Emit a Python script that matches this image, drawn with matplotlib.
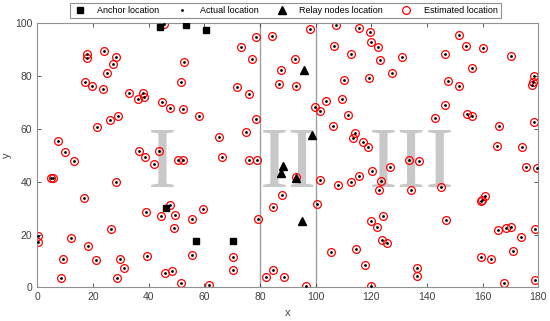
import matplotlib
matplotlib.use("Agg")
import matplotlib.pyplot as plt

plt.rcParams['font.family'] = ['Liberation Sans', 'DejaVu Sans']

# node positions (actual and estimated practically coincide)
node_x = [45.6, 17.7, 18.0, 24.0, 28.3, 27.1, 25.0, 17.2, 19.5, 23.5, 33.0, 36.1, 37.9, 38.4, 44.8,
          29.0, 26.1, 21.3, 7.4, 10.1, 36.6, 43.7, 78.7, 73.2, 77.2, 52.6, 51.5, 71.6, 75.9, 47.6,
          52.2, 58.1, 78.7, 75.0, 65.4, 13.2, 38.7, 42.0, 4.8, 5.5, 28.3, 16.7, 39.0, 44.3, 26.6,
          0.4, 0.1, 12.0, 18.3, 9.3, 21.1, 29.7, 39.4, 31.0, 8.6, 28.5, 45.9, 50.6, 52.3, 66.4,
          76.2, 78.9, 47.6, 49.6, 59.4, 55.6, 49.2, 79.2, 55.7, 70.4, 70.4, 48.5, 51.7, 61.6,
          84.2, 87.6, 86.8, 92.5, 93.0, 98.0, 99.6, 92.9, 88.0, 84.8, 82.1, 84.7, 88.7, 96.4,
          107.3, 115.7, 119.6, 106.7, 119.8, 122.4, 112.8, 123.2, 130.9, 127.3, 110.1, 119.3, 103.7,
          109.4, 101.5, 111.6, 106.3, 114.0, 113.5, 117.0, 118.9, 151.6, 154.0, 160.2, 146.4, 170.0,
          156.1, 178.4, 178.2, 177.8, 147.4, 151.6, 146.4, 142.7, 154.2, 156.2, 165.9, 178.5, 165.0,
          174.1, 101.5, 108.0, 112.8, 115.6, 120.2, 126.8, 123.6, 122.8, 133.5, 137.1, 134.1, 100.6,
          119.9, 124.1, 122.0, 123.7, 125.5, 105.6, 114.4, 117.8, 120.0, 144.9, 175.4, 179.4, 160.9,
          159.7, 159.4, 146.7, 165.5, 168.4, 170.0, 178.7, 173.6, 171.0, 159.3, 163.1, 136.5, 136.5,
          167.5, 178.7]
node_y = [99.8, 88.5, 87.0, 89.4, 87.1, 84.5, 81.1, 77.8, 76.3, 75.1, 73.6, 71.3, 73.6, 72.0, 70.3,
          64.9, 63.4, 60.7, 55.4, 51.1, 51.6, 51.7, 94.7, 91.1, 86.6, 85.3, 77.7, 75.8, 73.1, 68.0,
          67.5, 65.0, 63.6, 58.8, 56.9, 48.0, 49.3, 46.6, 41.3, 41.3, 39.8, 33.7, 28.4, 27.1, 22.1,
          19.4, 17.1, 18.7, 15.5, 10.6, 10.3, 10.8, 11.7, 7.2, 3.6, 3.6, 5.6, 48.2, 48.2, 49.5,
          48.2, 48.1, 31.1, 27.5, 29.8, 25.8, 22.5, 25.8, 12.1, 11.5, 6.6, 6.3, 1.5, 0.9,
          95.2, 82.2, 76.9, 86.5, 76.1, 98.0, 68.2, 41.9, 35.0, 30.3, 3.9, 6.6, 3.8, 0.6,
          99.4, 98.2, 96.8, 91.5, 93.0, 90.9, 88.3, 86.0, 87.2, 81.1, 78.4, 79.5, 70.7,
          71.3, 66.9, 65.2, 61.1, 58.6, 56.6, 55.2, 53.1, 95.6, 91.3, 90.5, 88.3, 87.5,
          83.1, 80.2, 77.8, 76.5, 78.0, 76.3, 69.1, 64.0, 65.8, 64.9, 61.1, 62.6, 53.5,
          53.0, 40.8, 38.8, 39.9, 42.3, 44.2, 45.5, 40.3, 36.9, 48.2, 47.8, 36.7, 31.4,
          25.2, 27.0, 23.0, 18.0, 16.8, 13.4, 14.4, 8.3, 0.6, 37.9, 45.7, 45.1, 34.7,
          33.0, 32.6, 25.6, 21.6, 22.3, 23.0, 22.0, 19.1, 13.6, 11.4, 10.7, 7.4, 4.4,
          1.7, 2.8]

anchor_x = [44.0, 53.3, 60.6, 46.1, 56.9, 70.4]
anchor_y = [98.5, 99.3, 97.5, 29.9, 17.5, 17.5]

relay_x = [95.9, 98.6, 88.3, 87.5, 92.8, 95.2]
relay_y = [82.3, 57.9, 46.0, 43.5, 41.5, 25.2]

region_labels = ["I", "II", "III"]
region_label_x = [45.0, 90.4, 134.4]
region_label_y = [45.9, 45.9, 45.9]
region_bounds = [80, 100]

fig = plt.figure(figsize=(5.5, 3.21), dpi=100)
ax = fig.add_axes([0.0678, 0.105, 0.911, 0.822])

for lab, lx, ly in zip(region_labels, region_label_x, region_label_y):
    ax.text(lx, ly, lab, family='Liberation Serif', fontsize=62, color='#c8c8c8',
            ha='center', va='center', zorder=0)
for b in region_bounds:
    ax.plot([b, b], [0, 100], color='#a0a0a0', lw=1.0, zorder=1)

ax.plot(anchor_x, anchor_y, 's', color='black', ms=4.5, label='Anchor location', zorder=4)
ax.plot(node_x, node_y, '.', color='black', ms=2.0, label='Actual location', zorder=3)
ax.plot(relay_x, relay_y, '^', color='black', ms=5.5, label='Relay nodes location', zorder=4)
ax.plot(node_x, node_y, 'o', mfc='none', mec='red', mew=0.9, ms=5.6,
        label='Estimated location', zorder=2)

ax.set_xlim(0, 180)
ax.set_ylim(0, 100)
ax.set_xticks(range(0, 181, 20))
ax.set_yticks(range(0, 101, 20))
ax.tick_params(direction='in', top=True, right=True, labelsize=7.5, colors='#404040',
               length=3, width=0.6)
for s in ax.spines.values():
    s.set_color('#909090')
    s.set_linewidth(0.8)
ax.set_xlabel('x', fontsize=8, color='#404040', labelpad=4)
ax.set_ylabel('y', fontsize=8, color='#404040', labelpad=2)

leg = ax.legend(loc='center', bbox_to_anchor=(0.495, 1.048), ncol=4, fontsize=6.5,
                frameon=True, fancybox=False, edgecolor='#909090', framealpha=1,
                handlelength=1.5, columnspacing=1.8, handletextpad=1.2,
                borderpad=0.35)
leg.get_frame().set_linewidth(0.8)
leg.set_zorder(10)

fig.savefig('out.png', dpi=100)
